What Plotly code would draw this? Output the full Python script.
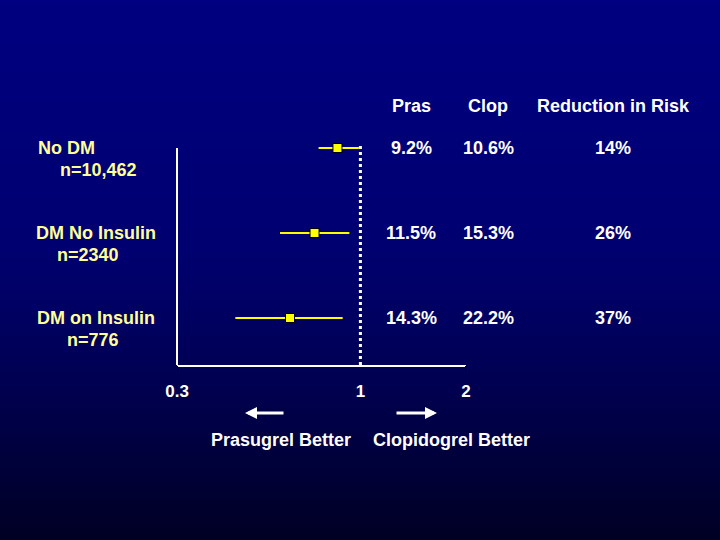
import plotly.graph_objects as go

# ---------------- data ----------------
groups = ["No DM", "DM No Insulin", "DM on Insulin"]
n_labels = ["n=10,462", "n=2340", "n=776"]
hr = [0.86, 0.74, 0.63]
ci_lo = [0.76, 0.59, 0.44]
ci_hi = [0.99, 0.93, 0.89]
pras = ["9.2%", "11.5%", "14.3%"]
clop = ["10.6%", "15.3%", "22.2%"]
rrr = ["14%", "26%", "37%"]
col_headers = ["Pras", "Clop", "Reduction in Risk"]
tick_vals = [0.3, 1, 2]
tick_text = ["0.3", "1", "2"]
favours = ["Prasugrel Better", "Clopidogrel Better"]

# ---------------- layout geometry (pixels) ----------------
W, H = 720, 540
L, R, T, B = 177, 254, 143, 175
PW, PH = W - L - R, H - T - B
FONT = "Liberation Sans, Arial, sans-serif"
YELLOW_TXT = "#FFFF99"


def px_x(px):
    return (px - L) / PW


def px_y(py):
    return (H - B - py) / PH


rows = list(range(len(groups)))

fig = go.Figure()

fig.add_trace(go.Scatter(
    x=hr, y=rows, mode="markers",
    marker=dict(symbol="square", size=9, color="#FFFF00",
                line=dict(color="#000000", width=1)),
    error_x=dict(type="data", symmetric=False,
                 array=[h - m for h, m in zip(ci_hi, hr)],
                 arrayminus=[m - l for m, l in zip(hr, ci_lo)],
                 color="#FFFF00", thickness=2, width=0),
    cliponaxis=False, showlegend=False, hoverinfo="skip",
))

# background gradient bands
stops = [(0, 128), (250, 112), (380, 82), (540, 36)]


def blue_at(py):
    for (y0, c0), (y1, c1) in zip(stops[:-1], stops[1:]):
        if y0 <= py <= y1:
            return c0 + (c1 - c0) * (py - y0) / (y1 - y0)
    return stops[-1][1]


shapes = []
band = 6
for y0 in range(0, H, band):
    b = round(blue_at(y0 + band / 2))
    shapes.append(dict(type="rect", xref="paper", yref="paper",
                       x0=px_x(-5), x1=px_x(W + 5),
                       y0=px_y(y0 + band + 0.5), y1=px_y(y0),
                       fillcolor=f"rgb(0,0,{b})", line=dict(width=0),
                       layer="below"))

# y axis line
shapes.append(dict(type="line", xref="paper", yref="paper",
                   x0=0, x1=0, y0=0, y1=px_y(148),
                   line=dict(color="white", width=2)))
# reference line at 1
shapes.append(dict(type="line", xref="x", yref="paper",
                   x0=1, x1=1, y0=0, y1=1,
                   line=dict(color="white", width=3, dash="dot")))
# small tick marks under the x axis at the range ends
for tv in (tick_vals[0], tick_vals[-1]):
    shapes.append(dict(type="line", xref="x", yref="paper",
                       x0=tv, x1=tv, y0=px_y(366), y1=px_y(371),
                       line=dict(color="black", width=2)))

ann = []
line1_left = [36, 34, 35]
line2_left = [58, 55, 65]
for i, (g, n) in enumerate(zip(groups, n_labels)):
    ann.append(dict(text=g, xref="paper", yref="y", x=px_x(line1_left[i]), y=rows[i],
                    xanchor="left", yanchor="middle", showarrow=False,
                    font=dict(family=FONT, size=18, color=YELLOW_TXT, weight="bold")))
    ann.append(dict(text=n, xref="paper", yref="y", x=px_x(line2_left[i]), y=rows[i],
                    yshift=-22, xanchor="left", yanchor="middle", showarrow=False,
                    font=dict(family=FONT, size=18, color=YELLOW_TXT, weight="bold")))

col_x = [411, 488, 613]
for cx, head in zip(col_x, col_headers):
    ann.append(dict(text=head, xref="paper", yref="paper", x=px_x(cx), y=px_y(106),
                    xanchor="center", yanchor="middle", showarrow=False,
                    font=dict(family=FONT, size=18, color="white", weight="bold")))
for cx, col in zip(col_x, [pras, clop, rrr]):
    for i, v in enumerate(col):
        ann.append(dict(text=v, xref="paper", yref="y", x=px_x(cx), y=rows[i],
                        xanchor="center", yanchor="middle", showarrow=False,
                        font=dict(family=FONT, size=18, color="white", weight="bold")))

# arrows
ann.append(dict(text="", xref="paper", yref="paper", x=px_x(245), y=px_y(413),
                ax=40, ay=0, showarrow=True, arrowhead=2, arrowsize=0.8,
                arrowwidth=3, arrowcolor="white"))
ann.append(dict(text="", xref="paper", yref="paper", x=px_x(437), y=px_y(413),
                ax=-42, ay=0, showarrow=True, arrowhead=2, arrowsize=0.8,
                arrowwidth=3, arrowcolor="white"))
for cx, t in zip([281, 451], favours):
    ann.append(dict(text=t, xref="paper", yref="paper", x=px_x(cx), y=px_y(440),
                    xanchor="center", yanchor="middle", showarrow=False,
                    font=dict(family=FONT, size=18, color="white", weight="bold")))

y_top = -(148 - T) / 85.0
y_bot = (H - B - 148) / 85.0

fig.update_layout(
    width=W, height=H,
    margin=dict(l=L, r=R, t=T, b=B, pad=0),
    paper_bgcolor="rgb(0,0,36)",
    plot_bgcolor="rgba(0,0,0,0)",
    shapes=shapes, annotations=ann,
    showlegend=False,
    xaxis=dict(type="log", range=[-0.5229, 0.30103],
               tickvals=tick_vals, ticktext=tick_text,
               showgrid=False, zeroline=False,
               showline=True, linecolor="white", linewidth=2,
               ticks="", ticklabelstandoff=10,
               tickfont=dict(family=FONT, size=17, color="white", weight="bold")),
    yaxis=dict(range=[y_bot, y_top], showgrid=False, zeroline=False,
               showline=False, showticklabels=False, ticks=""),
)

fig.write_html(
    "out.html",
    config={"displayModeBar": False},
    post_script="document.body.style.margin='0';document.body.style.overflow='hidden';",
)
